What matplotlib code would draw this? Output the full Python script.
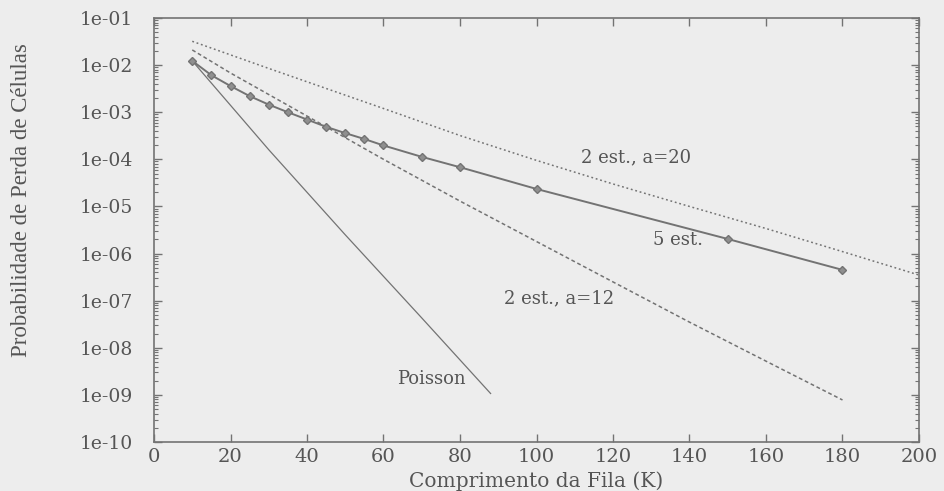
import matplotlib
matplotlib.use("Agg")
import matplotlib.pyplot as plt
import numpy as np
from matplotlib.ticker import LogLocator, FixedLocator, FuncFormatter

# 5 est. (simulated points, with markers)
k_5est = [10, 15, 20, 25, 30, 35, 40, 45, 50, 55, 60, 70, 80, 100, 150, 180]
p_5est = [1.23e-2, 6.1e-3, 3.6e-3, 2.2e-3, 1.45e-3, 1.0e-3, 7.0e-4, 4.9e-4,
          3.6e-4, 2.7e-4, 1.97e-4, 1.13e-4, 6.8e-5, 2.35e-5, 2.04e-6, 4.5e-7]

# 2 est., a=20 (dotted)
k_a20 = [10, 30, 60, 80, 100, 120, 140, 160, 180, 200]
p_a20 = [3.2e-2, 8.5e-3, 1.2e-3, 3.2e-4, 9.5e-5, 3.0e-5, 1.0e-5, 3.4e-6,
         1.1e-6, 3.5e-7]

# 2 est., a=12 (dashed)
k_a12 = [10, 20, 40, 60, 80, 100, 120, 140, 160, 180]
p_a12 = [2.1e-2, 6.8e-3, 8.3e-4, 1.0e-4, 1.3e-5, 1.8e-6, 2.5e-7, 3.5e-8,
         5.2e-9, 7.8e-10]

# Poisson (thin solid)
k_poisson = [10, 30, 50, 70, 88]
p_poisson = [1.23e-2, 1.6e-4, 2.5e-6, 4.3e-8, 1.07e-9]

x_ticks = [0, 20, 40, 60, 80, 100, 120, 140, 160, 180, 200]

bg = "#ededed"
ink = "#737373"
txt = "#555555"

fig = plt.figure(figsize=(9.45, 4.91), dpi=100, facecolor=bg)
ax = fig.add_axes([154 / 945, 1 - 442 / 491, (919 - 154) / 945, (442 - 18) / 491])
ax.set_facecolor(bg)

ax.plot(k_a20, p_a20, linestyle=(0, (1.2, 1.8)), color=ink, lw=1.1)
ax.plot(k_a12, p_a12, linestyle=(0, (2.5, 1.8)), color=ink, lw=1.1)
ax.plot(k_poisson, p_poisson, linestyle="-", color=ink, lw=0.9)
ax.plot(k_5est, p_5est, linestyle="-", color=ink, lw=1.4,
        marker="D", markersize=4.5, markerfacecolor="#8f8f8f", markeredgecolor=ink)

ax.set_yscale("log")
ax.set_xlim(0, 200)
ax.set_ylim(1e-10, 1e-1)

ax.xaxis.set_major_locator(FixedLocator(x_ticks))
ax.yaxis.set_major_locator(LogLocator(base=10, numticks=20))
ax.yaxis.set_minor_locator(LogLocator(base=10, subs=np.arange(2, 10), numticks=20))
ax.yaxis.set_minor_formatter(FuncFormatter(lambda v, p: ""))
ax.yaxis.set_major_formatter(FuncFormatter(lambda v, p: "1e-%02d" % round(-np.log10(v))))

ax.tick_params(axis="both", which="both", direction="in", top=True, right=True,
               color=ink)
ax.tick_params(axis="both", which="major", length=6, width=1)
ax.tick_params(axis="y", which="minor", length=3, width=0.8)
ax.tick_params(axis="y", which="major", pad=15)
ax.tick_params(axis="x", which="major", pad=4)

for lab in ax.get_yticklabels():
    lab.set_fontfamily("DejaVu Serif")
    lab.set_fontsize(13.5)
    lab.set_color(txt)
for lab in ax.get_xticklabels():
    lab.set_fontfamily("DejaVu Serif")
    lab.set_fontsize(14)
    lab.set_color(txt)

for sp in ax.spines.values():
    sp.set_color(ink)
    sp.set_linewidth(1.2)

ax.set_xlabel("Comprimento da Fila (K)", family="DejaVu Serif", fontsize=14.5, color=txt)
ax.xaxis.label.set_va("bottom")
ax.xaxis.set_label_coords(0.5, -0.1155)

# y label placed in figure pixels
fig.text(22 / 945, 1 - 200 / 491, "Probabilidade de Perda de Células",
         family="Liberation Serif", fontsize=16.5, color=txt,
         rotation=90, ha="center", va="center")

# curve labels
lab_kw = dict(family="DejaVu Serif", fontsize=13, color=txt, ha="center", va="center")
ax.text(126, 1.1e-4, "2 est., a=20", **lab_kw)
ax.text(137, 1.9e-6, "5 est.", **lab_kw)
ax.text(106, 1.1e-7, "2 est., a=12", **lab_kw)
ax.text(72.5, 2.2e-9, "Poisson", **lab_kw)

fig.savefig("out.png", dpi=100, facecolor=bg)
